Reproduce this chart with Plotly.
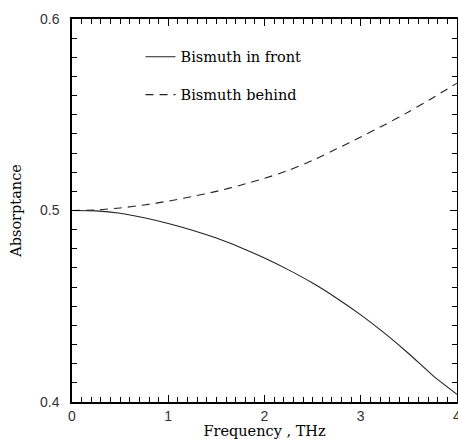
import plotly.graph_objects as go

freq = [0.0, 0.25, 0.5, 0.75, 1.0, 1.25, 1.5, 1.75, 2.0, 2.25, 2.5, 2.75, 3.0, 3.25, 3.5, 3.75, 4.0]
bi_front = [0.5, 0.4998, 0.4986, 0.4962, 0.4932, 0.4897, 0.4856, 0.4807, 0.4752,
            0.4690, 0.4621, 0.4542, 0.4455, 0.4358, 0.4252, 0.4138, 0.4040]
bi_behind = [0.5, 0.5003, 0.5013, 0.5029, 0.5049, 0.5073, 0.5100, 0.5132, 0.5168,
             0.5210, 0.5262, 0.5322, 0.5384, 0.5448, 0.5516, 0.5589, 0.5665]

serif = "DejaVu Serif"
sans = "Liberation Sans"

fig = go.Figure()
fig.add_trace(go.Scatter(x=freq, y=bi_front, mode="lines", name="Bismuth in front",
                         line=dict(color="#222", width=1.1, shape="spline", smoothing=0.6), legendgroup="a"))
fig.add_trace(go.Scatter(x=freq, y=bi_behind, mode="lines", name="Bismuth behind",
                         line=dict(color="#222", width=1.1, dash="8px,6px", shape="spline", smoothing=0.6),
                         legendgroup="b"))

axis_common = dict(showgrid=False, zeroline=False, showline=True, linecolor="black", linewidth=1.5,
                   mirror="allticks", ticks="inside", ticklen=7, tickcolor="black", tickwidth=1,
                   automargin=False, ticklabeloverflow="allow")

fig.update_xaxes(range=[0, 4], dtick=1, tick0=0,
                 minor=dict(dtick=0.1, ticks="inside", ticklen=5, tickcolor="black", tickwidth=1),
                 tickfont=dict(family=sans, size=14, color="#333"),
                 title=dict(text="Frequency , THz", font=dict(family=serif, size=14.5, color="black")),
                 **axis_common)
fig.update_yaxes(range=[0.4, 0.6], dtick=0.1, tick0=0.4, tickformat=".1f",
                 minor=dict(dtick=0.01, ticks="inside", ticklen=5, tickcolor="black", tickwidth=1),
                 tickfont=dict(family=sans, size=14, color="#333"), ticklabelstandoff=8,
                 title=dict(text="Absorptance", font=dict(family=serif, size=14.5, color="black")),
                 **axis_common)

fig.update_layout(
    width=458, height=439,
    margin=dict(l=72, r=1, t=19, b=37),
    paper_bgcolor="white", plot_bgcolor="white",
    showlegend=True,
    legend=dict(x=0.178, y=0.943, xanchor="left", yanchor="top", bgcolor="rgba(0,0,0,0)",
                font=dict(family=serif, size=14.5, color="black"), tracegroupgap=16),
)

fig.write_html(
    "out.html",
    config={"displayModeBar": False},
    post_script="document.body.style.margin='0';document.body.style.overflow='hidden';"
                "document.documentElement.style.overflow='hidden';",
)
